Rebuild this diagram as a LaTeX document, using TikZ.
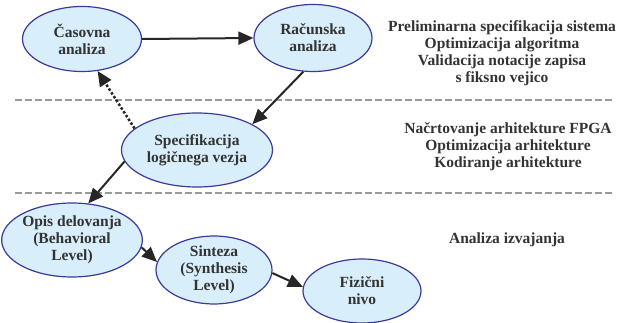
\documentclass[tikz,border=0pt]{standalone}
\usepackage{fontspec}
\setmainfont{Liberation Serif}
\usetikzlibrary{shapes.geometric,arrows.meta}
\definecolor{elfill}{HTML}{D8EEFA}
\definecolor{eldraw}{HTML}{3A3A9C}
\definecolor{txt}{HTML}{333333}
\definecolor{arr}{HTML}{262626}
\definecolor{sep}{HTML}{9A9A9A}

\begin{document}
\begin{tikzpicture}[x=1pt,y=-1pt,
    faza/.style={ellipse, draw=eldraw, fill=elfill, line width=1.2pt, inner sep=0pt,
      align=center, text=txt, font=\fontsize{15.5}{17}\selectfont\bfseries},
    opis/.style={align=center, text=txt, font=\fontsize{15.5}{17}\selectfont\bfseries},
    puscica/.style={draw=arr, line width=2pt, -{Triangle[length=15pt,width=13pt]}},
    locilo/.style={draw=sep, line width=2.5pt, dash pattern=on 7pt off 3pt}]
  \useasboundingbox (0,0) rectangle (626,323);
  % locilne crte
  \draw[locilo] (15,100) -- (612,100);
  \draw[locilo] (15,193) -- (612,193);
  % faze
  \node[faza, minimum width=119pt, minimum height=65pt] (cas) at (82,39) {Časovna\\analiza};
  \node[faza, minimum width=118pt, minimum height=67pt] (rac) at (313,38) {Računska\\analiza};
  \node[faza, minimum width=151pt, minimum height=74pt] (spec) at (197,150) {Specifikacija\\logičnega vezja};
  \node[faza, minimum width=117pt, minimum height=74pt] (beh) at (72,240) {Opis delovanja\\(Behavioral\\Level)};
  \node[faza, minimum width=116pt, minimum height=55pt] (sin) at (214,270) {Sinteza\\(Synthesis\\Level)};
  \node[faza, minimum width=118pt, minimum height=64pt] (fiz) at (362,291) {Fizični\\nivo};
  % povezave
  \draw[puscica] (cas.east) -- (rac.west);
  \draw[puscica] (rac.-106) -- (spec.25);
  \draw[puscica, line width=2.5pt, dotted] (spec.161) -- (cas.-64);
  \draw[puscica] (spec.-171) -- (beh.66);
  \draw[puscica] (beh.-6) -- (sin.172);
  \draw[puscica] (sin.-3) -- (fiz.176);
  % opisi nivojev
  \node[opis] (n1) at (502,53) {Preliminarna specifikacija sistema\\Optimizacija algoritma\\Validacija notacije zapisa\\s fiksno vejico};
  \node[opis] (n2) at (508,147) {Načrtovanje arhitekture FPGA\\Optimizacija arhitekture\\Kodiranje arhitekture};
  \node[opis] (n3) at (507,240) {Analiza izvajanja};
\end{tikzpicture}
\end{document}
